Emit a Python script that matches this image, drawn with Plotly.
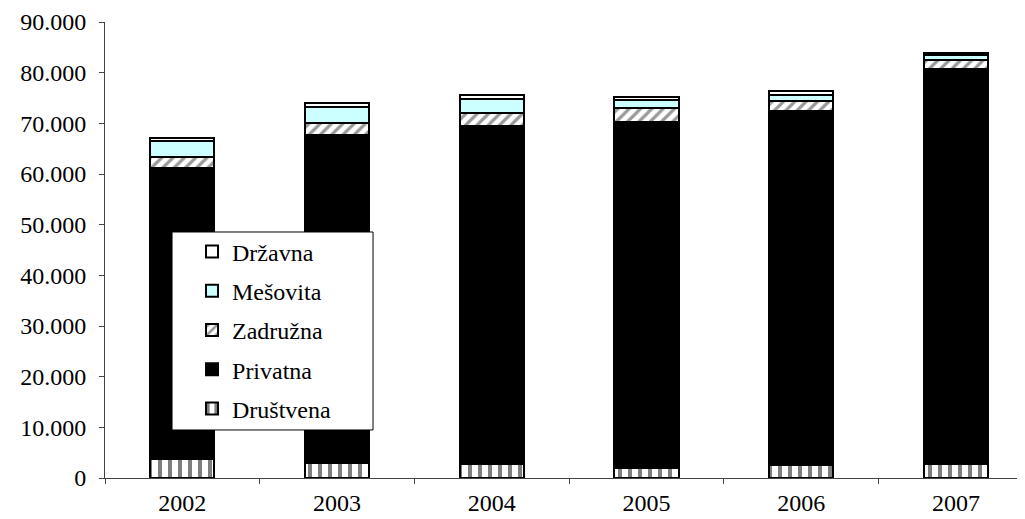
import plotly.graph_objects as go

years = ["2002", "2003", "2004", "2005", "2006", "2007"]
drustvena = [3750, 3060, 2760, 1950, 2570, 2700]
privatna = [57440, 64540, 66710, 68410, 69860, 78030]
zadruzna = [2260, 2370, 2510, 2670, 1980, 1770]
mesovita = [3060, 3350, 2760, 1670, 1180, 890]
drzavna = [540, 790, 950, 440, 850, 590]

series = [
    ("Društvena", drustvena, dict(color="white", pattern=dict(shape="|", fgcolor="black", bgcolor="white", size=10, solidity=0.4))),
    ("Privatna", privatna, dict(color="black")),
    ("Zadružna", zadruzna, dict(color="white", pattern=dict(shape="/", fgcolor="#333333", bgcolor="white", size=8, solidity=0.4))),
    ("Mešovita", mesovita, dict(color="#CCFFFF")),
    ("Državna", drzavna, dict(color="white")),
]

fig = go.Figure()
for i, (name, vals, mk) in enumerate(series):
    mk = dict(mk)
    mk["line"] = dict(color="black", width=2)
    fig.add_trace(go.Bar(x=years, y=vals, name=name, marker=mk,
                         legendgroup=f"g{i}", legendrank=5 - i))

# page body adds an 8px offset; layout compensates
fig.update_layout(
    barmode="stack",
    bargap=0.586,
    width=1009,
    height=511,
    margin=dict(l=97, r=0, t=14, b=41),
    plot_bgcolor="white",
    paper_bgcolor="white",
    separators=",.",
    font=dict(family="Liberation Serif, Times New Roman, serif", size=24, color="black"),
    legend=dict(
        x=0.0735, y=0.545, xanchor="left", yanchor="top",
        bgcolor="rgba(0,0,0,0)", borderwidth=0,
        traceorder="grouped", tracegroupgap=5, indentation=20,
        font=dict(size=24), itemwidth=30,
    ),
    showlegend=True,
    shapes=[dict(type="rect", xref="paper", yref="paper",
                 x0=0.0735, x1=0.2939, y0=0.1053, y1=0.5395,
                 fillcolor="white", line=dict(color="black", width=1), layer="above")],
)
fig.update_xaxes(
    type="category", range=[-0.5, 5.395], automargin=False,
    showline=True, linecolor="#444444", linewidth=1,
    ticks="outside", tickson="boundaries", ticklen=5, tickcolor="#444444",
    showgrid=False, tickfont=dict(size=24), ticklabelstandoff=3,
)
fig.update_yaxes(
    range=[0, 90000], dtick=10000, tickformat=",d", automargin=False,
    showline=True, linecolor="#444444", linewidth=1,
    ticks="outside", ticklen=5, tickcolor="#444444",
    showgrid=False, zeroline=False, tickfont=dict(size=24), ticklabelstandoff=8,
)

fig.write_html("out.html")
